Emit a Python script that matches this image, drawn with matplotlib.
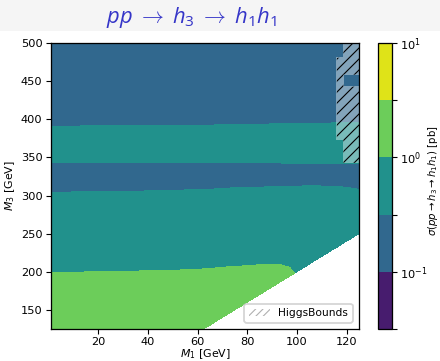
import numpy as np
import matplotlib
matplotlib.use("Agg")
import matplotlib.pyplot as plt
from matplotlib.colors import ListedColormap, BoundaryNorm
from matplotlib.patches import Patch, Rectangle

# ---------------- data ----------------
levels = [10**-1.5, 10**-1, 10**-0.5, 10**0, 10**0.5, 10**1]
level_colors = ['#471c6e', '#31688e', '#21918c', '#6ccd5a', '#dfe318']
cbar_ticklabels = ['', r'$10^{-1}$', '', r'$10^{0}$', '', r'$10^{1}$']

# band boundaries in M3 as function of M1 (bottom to top)
b1_m1 = [1, 20, 40, 60, 73, 85, 93, 97, 99, 125]
b1_m3 = [199, 200, 201, 203, 206.5, 209, 209.5, 206, 198, 198]
b2_m1 = [1, 20, 40, 61, 75, 90, 105, 117, 125]
b2_m3 = [304, 305, 306, 307.5, 310, 311.5, 312.5, 312, 308]
b3_m1 = [1, 60, 125]
b3_m3 = [343.5, 343.5, 342]
b4_m1 = [1, 60, 75, 100, 125]
b4_m3 = [391, 391.7, 393, 394.4, 395.3]
# representative cross sections [pb] of the bands (bottom -> top)
band_sigma = [1.8, 0.55, 0.18, 0.55, 0.18]
# kinematic threshold M3 = k * M1
threshold_ratio = 2.0

# HiggsBounds excluded region (rectangular pieces)
hb_m3_lo = [343, 373.4, 442.7, 458.5, 480.8]
hb_m3_hi = [373.4, 442.7, 458.5, 480.8, 500]
hb_m1_lo = [118.7, 116.0, 116.0, 116.0, 118.7]
hb_m1_hi = [125.5, 125.5, 118.7, 125.5, 125.5]

xlim = (1, 125)
ylim = (125, 500)
xticks = [20, 40, 60, 80, 100, 120]
yticks = [150, 200, 250, 300, 350, 400, 450, 500]

# ---------------- build grid ----------------
m1 = np.linspace(xlim[0], xlim[1], 800)
m3 = np.linspace(ylim[0], ylim[1], 1000)
M1, M3 = np.meshgrid(m1, m3)

bounds = [np.interp(m1, b1_m1, b1_m3), np.interp(m1, b2_m1, b2_m3),
          np.interp(m1, b3_m1, b3_m3), np.interp(m1, b4_m1, b4_m3)]
band_idx = np.zeros_like(M1, dtype=int)
for b in bounds:
    band_idx += (M3 >= b[None, :]).astype(int)
Z = np.array(band_sigma)[band_idx]
Z = np.ma.masked_where(M3 < threshold_ratio * M1, Z)

hb = np.zeros_like(M1)
for lo3, hi3, lo1, hi1 in zip(hb_m3_lo, hb_m3_hi, hb_m1_lo, hb_m1_hi):
    hb[(M3 >= lo3) & (M3 < hi3) & (M1 >= lo1) & (M1 < hi1)] = 1

# ---------------- plot ----------------
DPI = 132
plt.rcParams['hatch.linewidth'] = 0.6
plt.rcParams['mathtext.fontset'] = 'dejavusans'
plt.rcParams['mathtext.it'] = 'Open Sans:italic'
plt.rcParams['mathtext.rm'] = 'Open Sans'
plt.rcParams['mathtext.sf'] = 'Open Sans'

fig = plt.figure(figsize=(440 / DPI, 361 / DPI), dpi=DPI)
fig.patches.append(Rectangle((0, 1 - 31 / 361), 1, 31 / 361, transform=fig.transFigure,
                             facecolor='#f5f5f5', edgecolor='none', zorder=-1))

ax = fig.add_axes([51 / 440, 1 - 329 / 361, 308 / 440, 286 / 361])
cax = fig.add_axes([378 / 440, 1 - 329 / 361, 14 / 440, 286 / 361])

cmap = ListedColormap(level_colors)
norm = BoundaryNorm(levels, cmap.N)
cs = ax.contourf(M1, M3, Z, levels=levels, cmap=cmap, norm=norm)

ax.contourf(M1, M3, hb, levels=[0.5, 1.5], colors=['white'], alpha=0.4)
ax.contourf(M1, M3, hb, levels=[0.5, 1.5], colors='none', hatches=['////'])

ax.set_xlim(*xlim)
ax.set_ylim(*ylim)
ax.set_xticks(xticks)
ax.set_yticks(yticks)
ax.tick_params(labelsize=6.2, length=2.6, width=0.6, pad=2)
for s in ax.spines.values():
    s.set_linewidth(0.7)
ax.set_xlabel(r'$M_1$ [GeV]', fontsize=6.0, labelpad=0)
ax.set_ylabel(r'$M_3$ [GeV]', fontsize=6.0, labelpad=2)

leg_handle = Patch(facecolor='white', edgecolor='#b0b0b0', hatch='//////', linewidth=0)
ax.legend([leg_handle], ['HiggsBounds'], loc='lower right', fontsize=5.8,
          borderaxespad=0.6, handlelength=2.0, framealpha=0.8)

cb = fig.colorbar(cs, cax=cax, ticks=levels)
cb.ax.set_yticklabels(cbar_ticklabels)
cb.ax.tick_params(labelsize=6.2, length=2.6, width=0.6, pad=2)
cb.outline.set_linewidth(0.7)
cb.set_label(r'$\sigma(pp\to h_3\to h_1h_1)$ [pb]', fontsize=5.5, labelpad=0)
cb.ax.yaxis.set_label_coords(433 / 440, 0.5, transform=fig.transFigure)
cb.ax.yaxis.label.set_va('center')

fig.text(191 / 440, 1 - 17 / 361, r'$pp\;\rightarrow\;h_3\;\rightarrow\;h_1h_1$',
         ha='center', va='center', fontsize=12, color='#3535c8',
         math_fontfamily='custom')

fig.savefig('out.png', dpi=DPI)
